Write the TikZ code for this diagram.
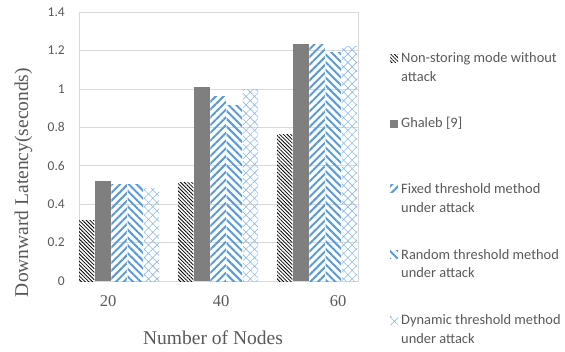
\documentclass[tikz,border=0pt]{standalone}
\usepackage{fontspec}
\usetikzlibrary{patterns.meta}
\newfontfamily\chartfont{Carlito}
\newfontfamily\titlefont{Liberation Serif}
\definecolor{barblue}{HTML}{5B9BD5}
\definecolor{lightblue}{HTML}{8DB9E4}
\definecolor{bargray}{HTML}{7F7F7F}
\definecolor{gridgray}{HTML}{D9D9D9}
\definecolor{textgray}{HTML}{595959}

\begin{document}
\begin{tikzpicture}[x=1pt, y=-1pt,
        nonstoring/.style={pattern={Lines[angle=-45, distance=2.6pt, line width=0.8pt]}, pattern color=black},
        ghaleb/.style={fill=bargray},
        fixed/.style={pattern={Lines[angle=45, distance=5.5pt, line width=2pt]}, pattern color=barblue},
        random/.style={pattern={Lines[angle=-45, distance=5.5pt, line width=2pt]}, pattern color=barblue},
        dynamic/.style={pattern={Hatch[angle=45, distance=6pt, line width=0.6pt]}, pattern color=lightblue},
        gridline/.style={draw=gridgray, line width=0.75pt},
        ytick/.style={font=\chartfont\fontsize{13.5}{16}\selectfont, text=textgray, inner sep=0pt, anchor=east},
        xtick/.style={font=\titlefont\fontsize{16.5}{19}\selectfont, text=textgray, inner sep=0pt},
        axistitle/.style={font=\titlefont\fontsize{19.5}{22}\selectfont, text=textgray, inner sep=0pt},
        legendtext/.style={font=\chartfont\fontsize{14.4}{18.5}\selectfont, text=textgray, inner sep=0pt, anchor=west, align=left}
        ]
        \useasboundingbox (0,0) rectangle (565,351);

        \begin{scope}[shift={(0,281)}, y=192pt]
        % Grid
        \draw[gridline] (79,0) rectangle (358,1.4);
        \draw[gridline] (79,0.2) -- (358,0.2);
        \draw[gridline] (79,0.4) -- (358,0.4);
        \draw[gridline] (79,0.6) -- (358,0.6);
        \draw[gridline] (79,0.8) -- (358,0.8);
        \draw[gridline] (79,1.0) -- (358,1.0);
        \draw[gridline] (79,1.2) -- (358,1.2);

        % Y tick labels
        \node (ytick0) [ytick] at (65,0) {0};
        \node (ytick1) [ytick] at (65,0.2) {0.2};
        \node (ytick2) [ytick] at (65,0.4) {0.4};
        \node (ytick3) [ytick] at (65,0.6) {0.6};
        \node (ytick4) [ytick] at (65,0.8) {0.8};
        \node (ytick5) [ytick] at (65,1.0) {1};
        \node (ytick6) [ytick] at (65,1.2) {1.2};
        \node (ytick7) [ytick] at (65,1.4) {1.4};

        % Bars, 20 nodes
        \path[nonstoring] (79,0) rectangle (94.4,0.315);
        \path[ghaleb] (95.2,0) rectangle (110.6,0.52);
        \path[fixed] (111.4,0) rectangle (126.8,0.505);
        \path[random] (127.6,0) rectangle (143,0.505);
        \path[dynamic] (143.8,0) rectangle (159.2,0.48);

        % Bars, 40 nodes
        \path[nonstoring] (178,0) rectangle (193.4,0.515);
        \path[ghaleb] (194.2,0) rectangle (209.6,1.01);
        \path[fixed] (210.4,0) rectangle (225.8,0.963);
        \path[random] (226.6,0) rectangle (242,0.915);
        \path[dynamic] (242.8,0) rectangle (258.2,1.0);

        % Bars, 60 nodes
        \path[nonstoring] (277,0) rectangle (292.4,0.765);
        \path[ghaleb] (293.2,0) rectangle (308.6,1.232);
        \path[fixed] (309.4,0) rectangle (324.8,1.232);
        \path[random] (325.6,0) rectangle (341,1.19);
        \path[dynamic] (341.8,0) rectangle (357.2,1.222);
        \end{scope}

        % X tick labels and titles
        \node (xtick20) [xtick] at (108,301) {20};
        \node (xtick40) [xtick] at (221,301) {40};
        \node (xtick60) [xtick] at (338,301) {60};
        \node (xtitle) [axistitle] at (213,338) {Number of Nodes};
        \node (ytitle) [axistitle, rotate=90] at (23.5,182.5) {Downward Latency(seconds)};

        % Legend
        \path[nonstoring] (390,54.5) rectangle (398,62.5);
        \node (legNonStoring) [legendtext] at (401,67) {Non-storing mode without\\attack};
        \path[ghaleb] (390,119.5) rectangle (398,127.5);
        \node (legGhaleb) [legendtext] at (401,123.5) {Ghaleb [9]};
        \path[fixed] (390,184.5) rectangle (398,192.5);
        \node (legFixed) [legendtext] at (401,198) {Fixed threshold method\\under attack};
        \path[random] (390,250) rectangle (398,258);
        \node (legRandom) [legendtext] at (401,263.5) {Random threshold method\\under attack};
        \path[dynamic] (390,316) rectangle (398,324);
        \node (legDynamic) [legendtext] at (401,329) {Dynamic threshold method\\under attack};

    \end{tikzpicture}
\end{document}
